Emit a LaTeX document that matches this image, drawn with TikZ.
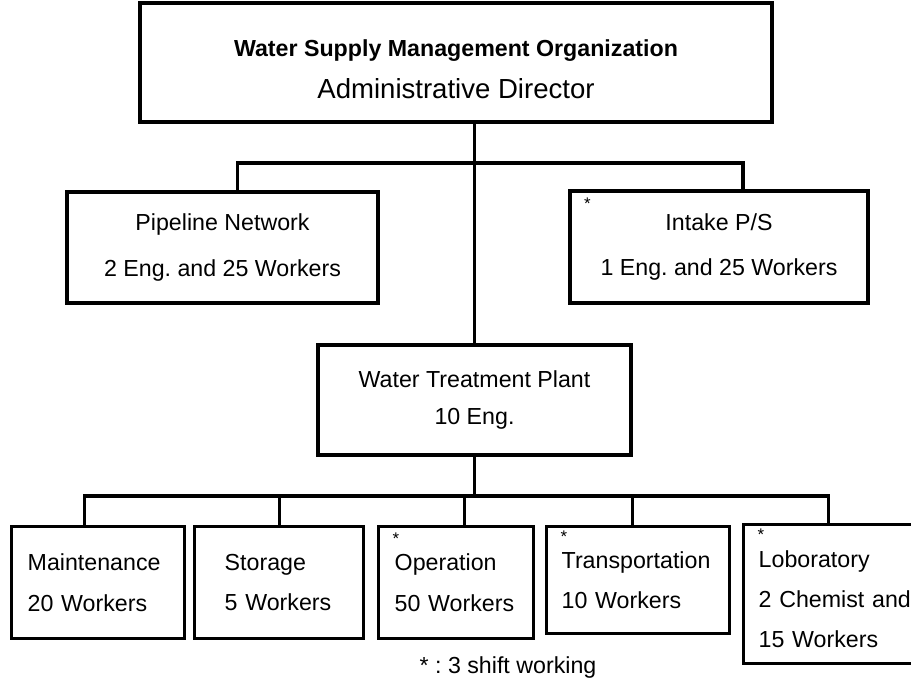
\documentclass[tikz,border=0pt]{standalone}
\usepackage{fontspec}
\setmainfont{Liberation Sans}
\usetikzlibrary{positioning,calc}
\frenchspacing

\begin{document}
\begin{tikzpicture}[x=0.025cm,y=-0.025cm,line width=2.4pt,
  box/.style={draw,inner sep=0pt},
  mid/.style={box,align=center,font=\fontsize{16.5}{32.7}\selectfont},
  sub/.style={box,anchor=north west,align=left,minimum height=2.8cm,inner xsep=0.4cm,
    font=\fontsize{16.5}{28.5}\selectfont},
  starmk/.style={inner sep=0pt,font=\fontsize{12}{12}\selectfont}]
\useasboundingbox (0,0) rectangle (911,681);
% head
\node[box,minimum width=15.8cm,minimum height=2.975cm,align=center] (dir) at (456,62.5)
  {\fontsize{16.5}{20}\selectfont\bfseries\rule{0pt}{22pt}Water Supply Management Organization\\[11pt]
   \fontsize{19.6}{24}\selectfont Administrative Director};
% second level
\node[mid,minimum width=7.775cm,minimum height=2.775cm] (pipe) at (222.5,247.5)
  {Pipeline Network\\2 Eng. and 25 Workers};
\node[mid,minimum width=7.45cm,minimum height=2.8cm] (intake) at (719,247)
  {Intake P/S\\1 Eng. and 25 Workers};
\node[box,align=center,minimum width=7.825cm,minimum height=2.75cm,
  font=\fontsize{16.5}{27}\selectfont] (wtp) at (474.5,400)
  {Water Treatment Plant\\10 Eng.};
% sections of the plant
\node[sub,text width=3.525cm] (maint) at (10,525) {Maintenance\\20 Workers};
\node[sub,inner xsep=0.75cm,text width=2.725cm] (stor) at (193,525) {Storage\\5 Workers};
\node[sub,text width=3.075cm] (oper) at (377,525) {Operation\\50 Workers};
\node[sub,inner xsep=0.375cm,text width=3.825cm,minimum height=2.675cm] (trans) at (545,525)
  {Transportation\\10 Workers};
\node[sub,inner xsep=0.375cm,text width=4cm,minimum height=3.475cm] (lab) at (742,523)
  {\rule{0pt}{19pt}Loboratory\\2 Chemist and\\15 Workers};
% shift marks
\foreach \n/\dy in {intake/14,oper/14,trans/12,lab/12}
  \node[starmk] (\n-star) at ([shift={(19,\dy)}]\n.north west) {*};
\node[font=\fontsize{16.5}{20}\selectfont] (note) at (508,667) {* : 3 shift working};
% lines
\draw (dir.south -| wtp.north) -- (wtp.north);
\coordinate (bus1) at (476,163);
\draw ([shift={(15,0)}]pipe.north) |- (bus1) -| ([shift={(24,0)}]intake.north);
\coordinate (bus2) at (476,496);
\draw (wtp.south) -- (wtp.south |- bus2);
\draw ([shift={(-14,0)}]maint.north) |- (bus2) -| ([shift={(-10,0)}]lab.north);
\foreach \n/\dx in {stor/0,oper/8,trans/-6}
  \draw ([shift={(\dx,0)}]\n.north) -- ([shift={(\dx,0)}]\n.north |- bus2);
\end{tikzpicture}
\end{document}
